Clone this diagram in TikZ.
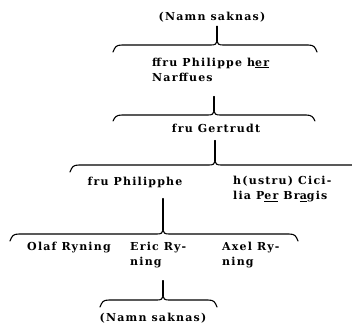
\documentclass[tikz,border=0pt]{standalone}
\usepackage{fontspec}
\setmainfont{DejaVu Serif}[LetterSpace=11]
\usetikzlibrary{positioning}

% one family bar: left x, right x, bar y, tip x, end drop, tip name
\newcommand{\kinbrace}[6]{%
  \coordinate (#6) at (#4,#3-4);
  \draw [kin] (#1,#3+#5) .. controls (#1+2,#3+2) and (#1+3,#3) .. (#1+9,#3)
    -- (#4-6,#3) .. controls (#4-2,#3) and (#4,#3-1) .. (#6)
    .. controls (#4,#3-1) and (#4+2,#3) .. (#4+6,#3)
    -- (#2-9,#3) .. controls (#2-3,#3) and (#2-2,#3+2) .. (#2,#3+#5);}

\begin{document}
\begin{tikzpicture}[x=1pt, y=-1pt,
    kin/.style={line width=1.1pt, line cap=round},
    person/.style={inner sep=1pt, font=\fontsize{11}{15}\selectfont\bfseries},
    persons/.style={person, align=left, anchor=west}]
  \useasboundingbox (0,0) rectangle (352,329);
  \clip (0,0) rectangle (352,329);

  \node [person] (top) at (212,17) {(Namn saknas)};
  \node [persons] (philippe) at (151,69.5) {ffru Philippe h\underline{er}\\Narffues};
  \node [person] (gertrudt) at (216,128) {fru Gertrudt};
  \node [person] (philipphe) at (135,182) {fru Philipphe};
  \node [persons] (cicilia) at (232,189.5) {h(ustru) Cici-\\lia P\underline{er} Br\underline{a}gis};
  \node [person] (olaf) at (69,248) {Olaf Ryning};
  \node [persons] (eric) at (129,255.5) {Eric Ry-\\ning};
  \node [persons] (axel) at (221,255.5) {Axel Ry-\\ning};
  \node [person] (bottom) at (153,318) {(Namn saknas)};

  \kinbrace{113}{317}{45}{217}{7}{tipA}
  \kinbrace{113}{315}{115}{214}{6}{tipB}
  \kinbrace{70}{362}{165}{215}{7}{tipC}
  \kinbrace{10}{298}{234}{163}{7}{tipD}
  \kinbrace{100}{217}{300}{163}{7}{tipE}

  \draw [kin, shorten <=3pt] (top.south -| tipA) -- (tipA);
  \draw [kin, shorten <=14pt] (philippe.south -| tipB) -- (tipB);
  \draw [kin, shorten <=7pt] (gertrudt.south -| tipC) -- (tipC);
  \draw [kin, shorten <=10pt] (philipphe.south -| tipD) -- (tipD);
  \draw [kin, shorten <=11pt] (eric.south -| tipE) -- (tipE);
\end{tikzpicture}
\end{document}
